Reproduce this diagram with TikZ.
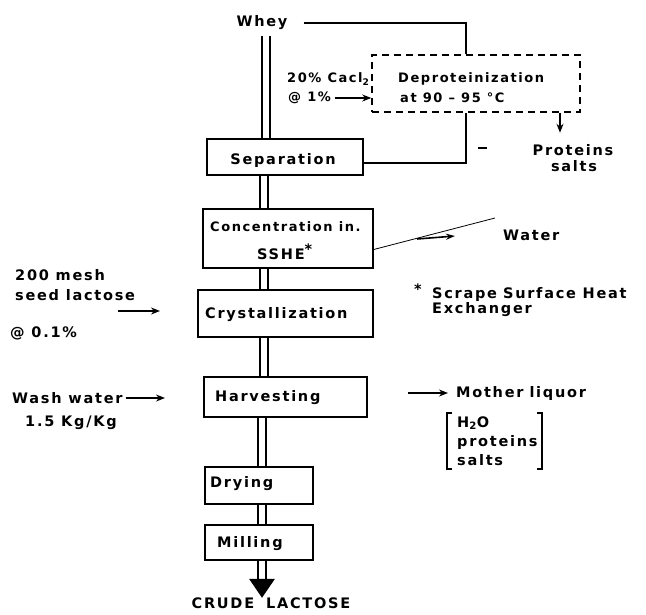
\documentclass[tikz,border=0pt]{standalone}
\usepackage{fontspec}
\setmainfont{DejaVu Sans}[LetterSpace=12]
\usetikzlibrary{arrows.meta,calc}
\begin{document}
\begin{tikzpicture}[x=1pt,y=-1pt,
  line/.style={line width=1.4pt},
  arr/.style={line width=1.4pt,-{Stealth[length=9pt,width=7pt]}},
  box/.style={draw,line width=1.5pt,inner sep=0pt},
  dbox/.style={draw,line width=1.5pt,inner sep=0pt,dash pattern=on 7pt off 5pt},
  pipe/.style={line width=1.6pt},
  txt/.style={inner sep=0pt,font=\fontsize{14.5}{16}\selectfont\bfseries},
  ltxt/.style={txt,anchor=west},
  stxt/.style={ltxt,font=\fontsize{13}{15}\selectfont\bfseries}]
\useasboundingbox (0,0) rectangle (646,614);

% boxes
\node[box,minimum width=156pt,minimum height=36pt] (sep) at (285,157) {};
\node[dbox,minimum width=208pt,minimum height=57pt] (dep) at (476,83.5) {};
\node[box,minimum width=170pt,minimum height=59pt] (conc) at (288,238.5) {};
\node[box,minimum width=175pt,minimum height=47pt] (cry) at (285.5,313.5) {};
\node[box,minimum width=163pt,minimum height=40pt] (harv) at (285.5,397) {};
\node[box,minimum width=108pt,minimum height=37pt] (dry) at (259,485.5) {};
\node[box,minimum width=108pt,minimum height=35pt] (mill) at (259,542.5) {};

% box texts
\node[txt] (septxt) at (283,160) {Separation};
\node[stxt] (dep1) at (398,79) {Deproteinization};
\node[stxt] (dep2) at (400,98) {at 90 -- 95 °C};
\node[stxt] (conc1) at (210,227) {Concentration in.};
\node[ltxt] (conc2) at (257,252) {SSHE\textsuperscript{\Large*}};
\node[ltxt] (crytxt) at (205,315) {Crystallization};
\node[ltxt] (harvtxt) at (215,398) {Harvesting};
\node[ltxt] (drytxt) at (210,484) {Drying};
\node[ltxt] (milltxt) at (217,544) {Milling};

% other texts
\node[txt] (whey) at (262,23) {Whey};
\node[stxt] (cacl) at (287,79) {20\% Cacl\textsubscript{2}};
\node[stxt] (at1) at (288,98) {@ 1\%};
\node[txt] (prot) at (573,150) {Proteins};
\node[txt] (salts) at (574,166) {salts};
\node[ltxt] (water) at (503,235) {Water};
\node[ltxt] (star) at (414,289) {\Large*};
\node[ltxt] (ss1) at (432,294) {Scrape\hspace{6pt}Surface Heat};
\node[ltxt] (ss2) at (432,310) {Exchanger};
\node[ltxt] (mesh1) at (15,275) {200 mesh};
\node[ltxt] (mesh2) at (15,295) {seed lactose};
\node[ltxt] (mesh3) at (10,333) {@ 0.1\%};
\node[ltxt] (wash1) at (12,398) {Wash water};
\node[ltxt] (wash2) at (25,423) {1.5 Kg/Kg};
\node[ltxt] (ml) at (456,393) {Mother\hspace{6pt}liquor};
\node[ltxt] (ml1) at (457,423) {H\textsubscript{2}O};
\node[ltxt] (ml2) at (457,442) {proteins};
\node[ltxt] (ml3) at (457,460) {salts};
\node[txt] (crude) at (271,603) {CRUDE\hspace{12pt}LACTOSE};

% pipes (pairs of lines)
\coordinate (pa) at (262,0); \coordinate (pb) at (270,0);
\coordinate (qa) at (260,0); \coordinate (qb) at (268,0);
\coordinate (ra) at (258,0); \coordinate (rb) at (266,0);
\draw[pipe] ($(pa |- whey.south)+(0,6)$) -- (pa |- sep.north)
            ($(pb |- whey.south)+(0,6)$) -- (pb |- sep.north);
\draw[pipe] (qa |- sep.south) -- (qa |- conc.north)
            (qb |- sep.south) -- (qb |- conc.north);
\draw[pipe] (qa |- conc.south) -- (qa |- cry.north)
            (qb |- conc.south) -- (qb |- cry.north);
\draw[pipe] (qa |- cry.south) -- (qa |- harv.north)
            (qb |- cry.south) -- (qb |- harv.north);
\draw[pipe] (ra |- harv.south) -- (ra |- dry.north)
            (rb |- harv.south) -- (rb |- dry.north);
\draw[pipe] (ra |- dry.south) -- (ra |- mill.north)
            (rb |- dry.south) -- (rb |- mill.north);
\draw[pipe] (ra |- mill.south) -- ($(ra |- mill.south)+(0,18)$)
            (rb |- mill.south) -- ($(rb |- mill.south)+(0,18)$);
\coordinate (tri) at ($(ra |- mill.south)!0.5!(rb |- mill.south)+(0,18)$);
\fill ($(tri)+(-13,0)$) -- ($(tri)+(13,0)$) -- ($(tri)+(0,19)$) -- cycle;

% deproteinization loop
\draw[line] ([xshift=16]whey.east) -| ([xshift=-10]dep.north);
\draw[line] ([xshift=-10]dep.south) |- ([yshift=-6]sep.east);
\draw[arr] ([xshift=4]at1.east) -- (dep.west |- at1.east);
\draw[arr] ([xshift=84]dep.south) -- ++(0,20);
\draw[line] (478,148) -- (487,148);

% water
\draw[line width=0.8pt] ([yshift=-11]conc.east) -- (495,218);
\draw[line width=1.6pt,-{Stealth[length=9pt,width=6pt]}] (417,239) -- (455,236);

% side inputs
\draw[arr] (118,311) -- (160,311);
\draw[arr] ([xshift=3]wash1.east) -- (165,398);
\draw[arr] (408,393) -- ([xshift=-8]ml.west);

% brackets
\draw[line] (452,413) -- (447,413) -- (447,469) -- (452,469);
\draw[line] (537,413) -- (542,413) -- (542,469) -- (537,469);
\end{tikzpicture}
\end{document}
